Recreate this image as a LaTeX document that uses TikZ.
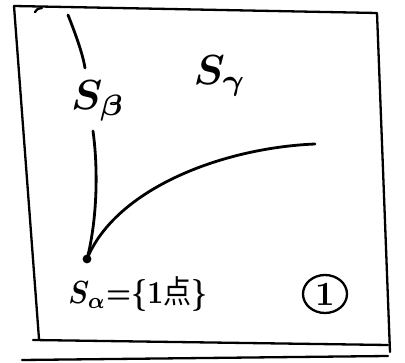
\documentclass[tikz,border=0pt]{standalone}
\usepackage{graphicx}
\usepackage{fontspec}
\usetikzlibrary{shapes.geometric}
\newfontfamily\cjk{Noto Sans CJK JP}
\begin{document}
\begin{tikzpicture}[x=1pt,y=-1pt,
  frame/.style={line width=2.3pt,line cap=round,line join=round},
  curve/.style={line width=2.8pt,line cap=round},
  lbl/.style={inner sep=0pt,anchor=center}]
\useasboundingbox (0,0) rectangle (405,363);
% frame
\draw[frame] (14,6) -- (377,13) -- (390,352);
\draw[frame] (14,6) -- (39,339);
\draw[frame] (33,340) -- (388,345);
\draw[frame] (22,360) -- (388,356);
\draw[frame] (35,12) .. controls (37,9) .. (42,8);
% point S_alpha
\coordinate (p) at (87,259);
\fill (p) circle (4.4);
% boundary curves
\coordinate (b1) at (68,15);
\coordinate (b2) at (85,68);
\coordinate (b3) at (93,131);
\coordinate (g1) at (315,144);
\draw[curve] (b1) .. controls (76,35) and (83,55) .. (b2);
\draw[curve] (b3) .. controls (99,175) and (96,225) .. (p);
\draw[curve] (p) .. controls (115,190) and (220,148) .. (g1);
% labels
\node[lbl] (sb) at (98,101) {\scalebox{4.2}{\boldmath$S_\beta$}};
\node[lbl] (sg) at (220,76) {\scalebox{4.2}{\boldmath$S_\gamma$}};
\node[lbl] (sa) at (138,294) {\scalebox{2.8}[3.2]{\boldmath$S_\alpha{=}\{1${\cjk 点}$\}$}};
\node[draw,line width=2.3pt,ellipse,minimum width=44pt,minimum height=38pt,inner sep=0pt] (one) at (325,294) {\scalebox{3.4}{\bfseries 1}};
\end{tikzpicture}
\end{document}
